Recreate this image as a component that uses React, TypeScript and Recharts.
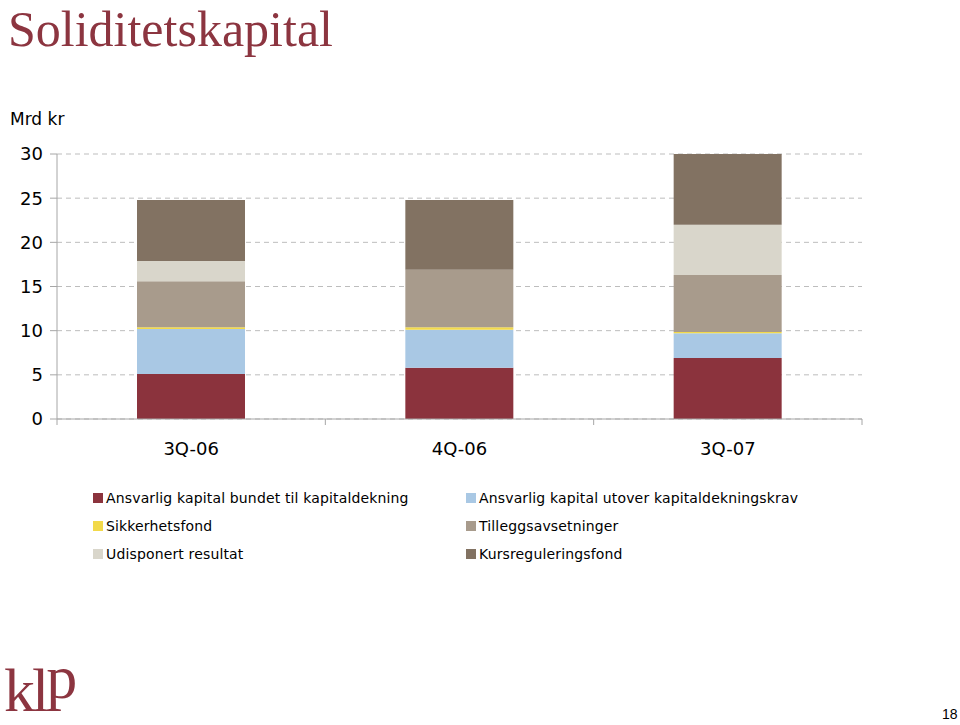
import React from "react";
import {
  BarChart,
  Bar,
  XAxis,
  YAxis,
  CartesianGrid,
  Legend,
} from "recharts";

// Kvartaler
const quarters = ["3Q-06", "4Q-06", "3Q-07"];

// Mrd kr, lest av bildet (nedenfra og opp)
const bundet = [5.1, 5.8, 6.9];
const utover = [5.1, 4.3, 2.8];
const sikkerhetsfond = [0.2, 0.3, 0.15];
const tillegg = [5.2, 6.5, 6.45];
const udisponert = [2.3, 0, 5.7];
const kursregulering = [6.9, 7.9, 8.0];

const yTicks = [0, 5, 10, 15, 20, 25, 30];

const seriesNames = [
  "Ansvarlig kapital bundet til kapitaldekning",
  "Ansvarlig kapital utover kapitaldekningskrav",
  "Sikkerhetsfond",
  "Tilleggsavsetninger",
  "Udisponert resultat",
  "Kursreguleringsfond",
];
const seriesKeys = ["bundet", "utover", "sikkerhet", "tillegg", "udisponert", "kurs"];
const seriesColors = ["#8B333D", "#A9C8E4", "#F2D94A", "#A89B8C", "#D9D6CB", "#827262"];

const chartData = quarters.map((q, i) => ({
  name: q,
  bundet: bundet[i],
  utover: utover[i],
  sikkerhet: sikkerhetsfond[i],
  tillegg: tillegg[i],
  udisponert: udisponert[i],
  kurs: kursregulering[i],
}));

const FONT = "'DejaVu Sans', Verdana, sans-serif";
const SERIF = "'Liberation Serif', 'Times New Roman', serif";
const AXIS_GREY = "#A6A6A6";

// x-aksen har tikkstreker mellom kategoriene, ikke midt under dem
const QuarterTick = (props: any) => {
  const { x, y, payload, index } = props;
  const half = payload.offset || 0;
  const top = y - 8;
  return (
    <g>
      <line x1={x - half} x2={x - half} y1={top} y2={top + 6} stroke={AXIS_GREY} />
      {index === quarters.length - 1 && (
        <line x1={x + half} x2={x + half} y1={top} y2={top + 6} stroke={AXIS_GREY} />
      )}
      <text
        x={x}
        y={y}
        dy={28}
        textAnchor="middle"
        fontSize={18}
        fontFamily={FONT}
        fill="#000"
      >
        {payload.value}
      </text>
    </g>
  );
};

const LegendGrid = () => (
  <div
    style={{
      display: "grid",
      gridTemplateColumns: "373px 400px",
      rowGap: 10,
      paddingLeft: 93,
      fontFamily: FONT,
      fontSize: 14,
      letterSpacing: 0.15,
      color: "#000",
    }}
  >
    {seriesNames.map((n, i) => (
      <div key={n} style={{ display: "flex", alignItems: "center", height: 18 }}>
        <span
          style={{
            width: 10,
            height: 10,
            background: seriesColors[i],
            marginRight: 3,
            display: "inline-block",
            flex: "none",
          }}
        />
        {n}
      </div>
    ))}
  </div>
);

export default function App() {
  return (
    <div
      style={{
        position: "absolute",
        left: 0,
        top: 0,
        width: 960,
        height: 725,
        background: "#fff",
        overflow: "hidden",
      }}
    >
      <div
        style={{
          position: "absolute",
          left: 8,
          top: 0,
          fontFamily: SERIF,
          fontSize: 50,
          lineHeight: "normal",
          color: "#8C3540",
          whiteSpace: "nowrap",
        }}
      >
        Soliditetskapital
      </div>
      <div
        style={{
          position: "absolute",
          left: 10,
          top: 109,
          fontFamily: FONT,
          fontSize: 17,
          color: "#000",
        }}
      >
        Mrd kr
      </div>

      <div style={{ position: "absolute", left: 0, top: 0 }}>
        <BarChart
          width={960}
          height={725}
          data={chartData}
          margin={{ top: 154, right: 98, left: 0, bottom: 266 }}
          barSize={108}
        >
          <CartesianGrid
            vertical={false}
            stroke="#BDBDBD"
            strokeDasharray="5 4"
          />
          <XAxis
            dataKey="name"
            height={40}
            stroke={AXIS_GREY}
            tickLine={false}
            tickSize={6}
            tickMargin={2}
            tick={<QuarterTick />}
            interval={0}
          />
          <YAxis
            width={57}
            domain={[0, 30]}
            ticks={yTicks}
            stroke={AXIS_GREY}
            tickSize={7}
            tickMargin={7}
            tick={{ fontSize: 18, fill: "#000", fontFamily: FONT }}
          />
          <Legend
            layout="horizontal"
            verticalAlign="middle"
            align="center"
            content={<LegendGrid />}
            wrapperStyle={{ position: "absolute", top: 489, left: 0, width: 960 }}
          />
          {seriesKeys.map((k, i) => (
            <Bar
              key={k}
              dataKey={k}
              name={seriesNames[i]}
              stackId="a"
              fill={seriesColors[i]}
              isAnimationActive={false}
            />
          ))}
        </BarChart>
      </div>

      {/* logo: p løftet så stammen ender på samme linje som k og l */}
      <div
        style={{
          position: "absolute",
          left: 4,
          top: 655,
          fontFamily: SERIF,
          fontSize: 62,
          lineHeight: "normal",
          color: "#8C3540",
          letterSpacing: -3,
          whiteSpace: "nowrap",
        }}
      >
        kl
        <span style={{ position: "relative", top: -13 }}>p</span>
      </div>
      <div
        style={{
          position: "absolute",
          left: 942,
          top: 706,
          fontFamily: "'Liberation Sans Narrow', 'Liberation Sans', sans-serif",
          fontSize: 14,
          color: "#000",
        }}
      >
        18
      </div>
    </div>
  );
}
